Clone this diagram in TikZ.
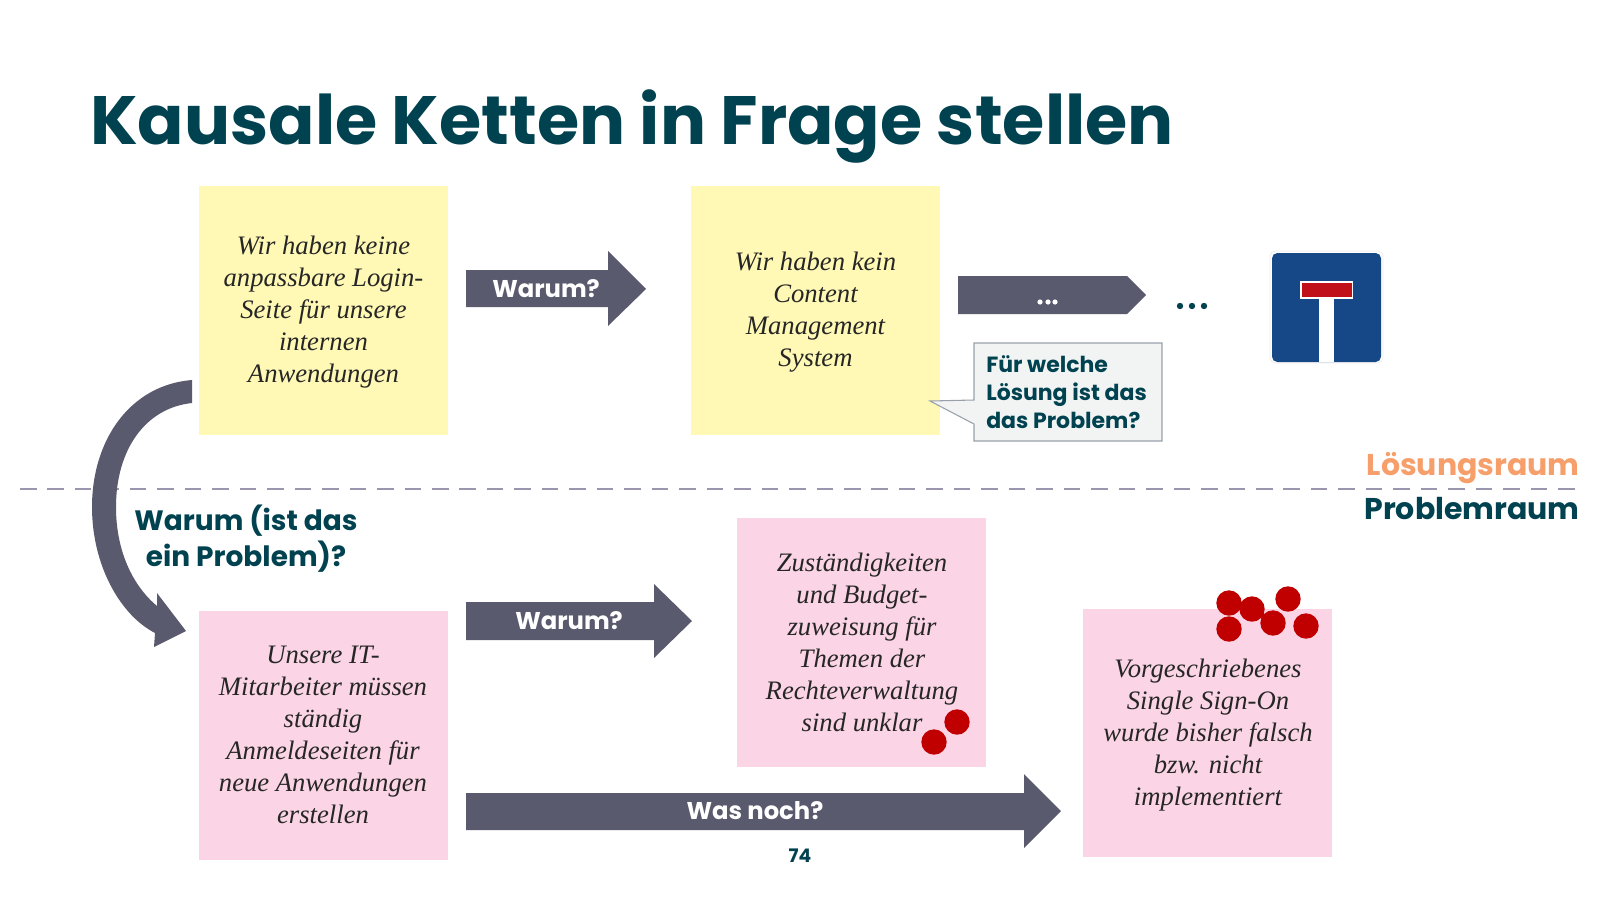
\documentclass[tikz,border=0pt]{standalone}
\usepackage{fontspec}
\setmainfont{Poppins}
\newfontfamily\notefont{Liberation Serif}
\definecolor{teal}{HTML}{00424F}
\definecolor{arrowc}{HTML}{5A5A6E}
\definecolor{yellowc}{HTML}{FFF9B5}
\definecolor{pinkc}{HTML}{FBD5E5}
\definecolor{dashc}{HTML}{9B96AD}
\definecolor{orangec}{HTML}{F79F6B}
\definecolor{signblue}{HTML}{164887}
\definecolor{signred}{HTML}{C0101A}
\definecolor{dotred}{HTML}{C00000}
\definecolor{calloutfill}{HTML}{F2F4F4}
\definecolor{calloutline}{HTML}{9AA0AA}
\tikzset{
  notetext/.style={inner sep=0pt,align=center,text=black!85,font=\notefont\itshape\fontsize{20}{24}\selectfont},
  yellownote/.style={fill=yellowc},
  pinknote/.style={fill=pinkc},
  block/.style={fill=arrowc},
  arrowlabel/.style={inner sep=0pt,text=white,font=\bfseries\fontsize{18.2}{24}\selectfont},
  heading/.style={inner sep=0pt,text=teal,align=center,font=\bfseries\fontsize{21}{27}\selectfont},
  dotc/.style={fill=dotred},
  spacelabel/.style={anchor=east,inner sep=0pt,font=\bfseries\fontsize{22.5}{27}\selectfont},
}
\begin{document}
\begin{tikzpicture}[x=0.75pt,y=-0.75pt]
\useasboundingbox (0,0) rectangle (1600,900);
% title
\node[anchor=base west,inner sep=0pt,text=teal,font=\bfseries\fontsize{51.3}{60}\selectfont] (title) at (90,144) {Kausale Ketten in Frage stellen};
% dashed divider
\coordinate (divL) at (20,489);
\coordinate (divR) at (1580,489);
\draw[dashc,line width=2pt,dash pattern=on 12.4pt off 8.2pt] (divL) -- (divR);
% notes
\fill[yellownote] (199,186) rectangle (448,435);
\fill[yellownote] (691,186) rectangle (940,435);
\fill[pinknote] (198.5,611) rectangle (448,860);
\fill[pinknote] (737,518) rectangle (986,767);
\fill[pinknote] (1083,609) rectangle (1332,857);
\node[notetext] (n1) at (323.5,312) {Wir haben keine\\anpassbare Login-\\Seite für unsere\\internen\\Anwendungen};
\node[notetext] (n2) at (815.5,312) {Wir haben kein\\Content\\Management\\System};
\node[notetext] (n3) at (323,735) {Unsere IT-\\Mitarbeiter müssen\\ständig\\Anmeldeseiten für\\neue Anwendungen\\erstellen};
\node[notetext] (n4) at (862,642) {Zuständigkeiten\\und Budget-\\zuweisung für\\Themen der\\Rechteverwaltung\\sind unklar};
\node[notetext] (n5) at (1208,735) {Vorgeschriebenes\\Single Sign-On\\wurde bisher falsch\\bzw. nicht\\implementiert};
% block arrows
\fill[block] (466,270) -- (608,270) -- (608,251) -- (646,289) -- (608,326) -- (608,307) -- (466,307) -- cycle;
\node[arrowlabel] (a1) at (546,289) {Warum?};
\fill[block] (958,276) -- (1127,276) -- (1146,295) -- (1127,314) -- (958,314) -- cycle;
\fill[white] (1040,302) circle (2.6) (1048,302) circle (2.6) (1055,302) circle (2.6);
\fill[block] (466,602) -- (654,602) -- (654,584) -- (692,621) -- (654,658) -- (654,640) -- (466,640) -- cycle;
\node[arrowlabel] (a2) at (569,621) {Warum?};
\fill[block] (466,793) -- (1024,793) -- (1024,774) -- (1061,811) -- (1024,848) -- (1024,830) -- (466,830) -- cycle;
\node[arrowlabel] (a3) at (755,811) {Was noch?};
% curved arrow
\fill[block] (192,380) .. controls (130,385) and (92,440) .. (92,507)
  .. controls (92,565) and (120,615) .. (155,633) -- (154,647) -- (186,631) -- (157,593) -- (157,606)
  .. controls (132,585) and (116,550) .. (116,507)
  .. controls (116,450) and (145,408) .. (192,403) -- cycle;
\node[heading] (why) at (246,539) {Warum (ist das\\ein Problem)?};
% dots after arrow
\fill[teal] (1180,306) circle (3.2) (1192,306) circle (3.2) (1204,306) circle (3.2);
% callout
\draw[fill=calloutfill,draw=calloutline,line width=0.8pt] (974,343) -- (1162,343) -- (1162,441) -- (974,441) -- (974,424) -- (930,401) -- (974,400) -- cycle;
\node[anchor=west,inner sep=0pt,text=teal,align=left,font=\bfseries\fontsize{16.5}{21}\selectfont] (q) at (986,392.5) {Für welche\\Lösung ist das\\das Problem?};
% sign
\draw[fill=white,draw=black!8,line width=0.5pt,rounded corners=4pt] (1270,251) rectangle (1383,363);
\fill[signblue,rounded corners=4pt] (1272,253) rectangle (1381,362);
\fill[white] (1319,290) rectangle (1334,362);
\fill[white] (1300,281) rectangle (1353,299);
\fill[signred] (1302,283) rectangle (1352,297);
% red dots
\fill[dotc] (957,722) circle (12.7) (934,742) circle (12.7);
\fill[dotc] (1229,603) circle (12.7) (1252,609) circle (12.7) (1288,599) circle (12.7)
  (1273,623) circle (12.7) (1229,629) circle (12.7) (1306,626) circle (12.7);
% labels
\node[spacelabel,text=orangec] (los) at (1580,468) {Lösungsraum};
\node[spacelabel,text=teal] (pro) at (1580,509) {Problemraum};
\node[inner sep=0pt,text=teal,font=\bfseries\fontsize{14}{16}\selectfont] (pg) at (800,856) {74};
\end{tikzpicture}
\end{document}
